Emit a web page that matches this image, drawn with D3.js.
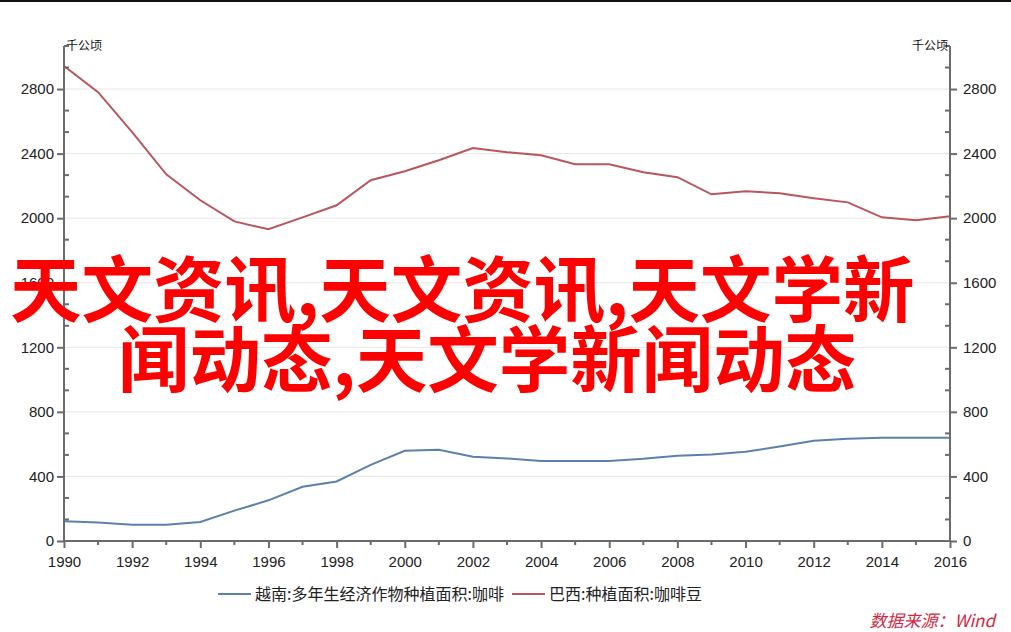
<!DOCTYPE html>
<html>
<head>
<meta charset="utf-8">
<script src="https://cdn.jsdelivr.net/npm/d3@7/dist/d3.min.js"></script>
<style>
  body { margin: 0; background: #fff; }
  svg { display: block; font-family: "Noto Sans", "Noto Sans CJK SC", sans-serif; }
</style>
</head>
<body>
<script>
// - Coffee planting area: Vietnam vs Brazil -

// Data
const years = d3.range(1990, 2017);
const vietnam = [122, 114, 101, 101, 118, 188, 252, 336, 369, 472, 559, 565, 522, 511,
                 495, 495, 495, 509, 528, 536, 553, 585, 621, 633, 639, 639, 639];
const brazil = [2943, 2781, 2533, 2272, 2111, 1980, 1931, 2005, 2080, 2235, 2291, 2359, 2434, 2409,
                2390, 2334, 2334, 2285, 2254, 2148, 2167, 2154, 2123, 2098, 2005, 1987, 2012];
const seriesNames = ["越南:多年生经济作物种植面积:咖啡", "巴西:种植面积:咖啡豆"];
const yTicks = [0, 400, 800, 1200, 1600, 2000, 2400, 2800];
const xTicks = d3.range(1990, 2017, 2);
const unit = "千公顷";
const overlay = ["天文资讯,天文资讯,天文学新", "闻动态,天文学新闻动态"];
const source = "数据来源：Wind";

// Chart size
const w = 1011, h = 632;
const pLeft = 64, pRight = 950, pTop = 46, pBottom = 541;
const colors = ["#5b80ac", "#b8555d"];
const axisColor = "#6b6b6b";

const svg = d3.select("body").append("svg")
  .attr("width", w)
  .attr("height", h);

svg.append("rect").attr("width", w).attr("height", h).attr("fill", "#fff");
svg.append("line").attr("x1", 0).attr("x2", w).attr("y1", 1).attr("y2", 1)
  .attr("stroke", "#111").attr("stroke-width", 2);

// Scales
const x = d3.scaleLinear().domain([1990, 2016]).range([pLeft, pRight]);
const y = d3.scaleLinear().domain([0, 3066.67]).range([pBottom, pTop]);

// Grid
svg.append("g").selectAll("line")
  .data(yTicks.slice(1))
  .enter().append("line")
  .attr("x1", pLeft).attr("x2", pRight)
  .attr("y1", d => y(d)).attr("y2", d => y(d))
  .attr("stroke", "#e6e6e6").attr("stroke-width", 1);

// Lines
const line = d3.line().x((d, i) => x(years[i])).y(d => y(d));
[vietnam, brazil].forEach((s, k) => {
  svg.append("path")
    .datum(s)
    .attr("d", line)
    .attr("fill", "none")
    .attr("stroke", colors[k])
    .attr("stroke-width", 2);
});

// Axes
const minorY = d3.range(0, 3066.67 + 1, 400 / 3).filter(v => Math.round(v) % 400 !== 0);

function yAxis(xPos, dir) {
  const g = svg.append("g").attr("transform", `translate(${xPos},0)`);
  const ax = (dir < 0 ? d3.axisLeft(y) : d3.axisRight(y))
    .tickValues(yTicks).tickFormat(d3.format("d"))
    .tickSize(7).tickPadding(dir < 0 ? 3 : 6).tickSizeOuter(0);
  g.call(ax);
  g.select(".domain").remove();
  g.append("line").attr("y1", pTop).attr("y2", pBottom + 1)
    .attr("stroke", axisColor).attr("stroke-width", 2);
  g.selectAll(".tick line").attr("stroke", axisColor).attr("stroke-width", 2);
  g.selectAll(".tick text").attr("fill", "#222").style("font-size", "15px");
  g.selectAll(".minor").data(minorY).enter().append("line")
    .attr("x1", 0).attr("x2", -dir * 5)
    .attr("y1", d => y(d)).attr("y2", d => y(d))
    .attr("stroke", axisColor).attr("stroke-width", 2);
  g.append("line").attr("x1", 0).attr("x2", -dir * 5).attr("y1", pTop).attr("y2", pTop)
    .attr("stroke", axisColor).attr("stroke-width", 2);
}
yAxis(pLeft, -1);
yAxis(pRight, 1);

const gx = svg.append("g").attr("transform", `translate(0,${pBottom})`);
gx.call(d3.axisBottom(x).tickValues(xTicks).tickFormat(d3.format("d"))
  .tickSize(7).tickPadding(8).tickSizeOuter(0));
gx.select(".domain").remove();
gx.append("line").attr("x1", pLeft - 1).attr("x2", pRight + 1)
  .attr("stroke", axisColor).attr("stroke-width", 2);
gx.selectAll(".tick line").attr("stroke", axisColor).attr("stroke-width", 2);
gx.selectAll(".tick text").attr("fill", "#222").style("font-size", "15px");
gx.selectAll(".minor").data(years.filter(d => d % 2 === 1)).enter().append("line")
  .attr("x1", d => x(d)).attr("x2", d => x(d)).attr("y1", 0).attr("y2", 4)
  .attr("stroke", axisColor).attr("stroke-width", 2);

// Unit labels
svg.append("text").attr("x", pLeft + 2).attr("y", 50)
  .style("font-family", "'Noto Sans CJK SC'").style("font-size", "12px").attr("fill", "#111")
  .text(unit);
svg.append("text").attr("x", pRight - 2).attr("y", 50).attr("text-anchor", "end")
  .style("font-family", "'Noto Sans CJK SC'").style("font-size", "12px").attr("fill", "#111")
  .text(unit);

// Legend
const legendX = [218, 512];
seriesNames.forEach((n, k) => {
  svg.append("line").attr("x1", legendX[k]).attr("x2", legendX[k] + 33)
    .attr("y1", 594).attr("y2", 594)
    .attr("stroke", colors[k]).attr("stroke-width", 2);
  svg.append("text").attr("x", legendX[k] + 37).attr("y", 600)
    .style("font-family", "'Noto Sans CJK SC'").style("font-size", "16px").attr("fill", "#222")
    .text(n);
});

// Source
svg.append("text").attr("x", 995).attr("y", 627).attr("text-anchor", "end")
  .style("font-family", "'Noto Sans CJK SC'").style("font-size", "17px")
  .style("font-style", "italic").attr("fill", "#d3263f")
  .text(source);

// Overlay title
svg.selectAll(".overlay").data(overlay).enter().append("text")
  .attr("x", (d, i) => i === 0 ? 10 : 118)
  .attr("y", (d, i) => 316 + i * 70)
  .style("font-family", "'Noto Sans CJK SC'").style("font-size", "71.5px")
  .style("font-weight", "bold").attr("fill", "#ff0000")
  .text(d => d);
</script>
</body>
</html>
